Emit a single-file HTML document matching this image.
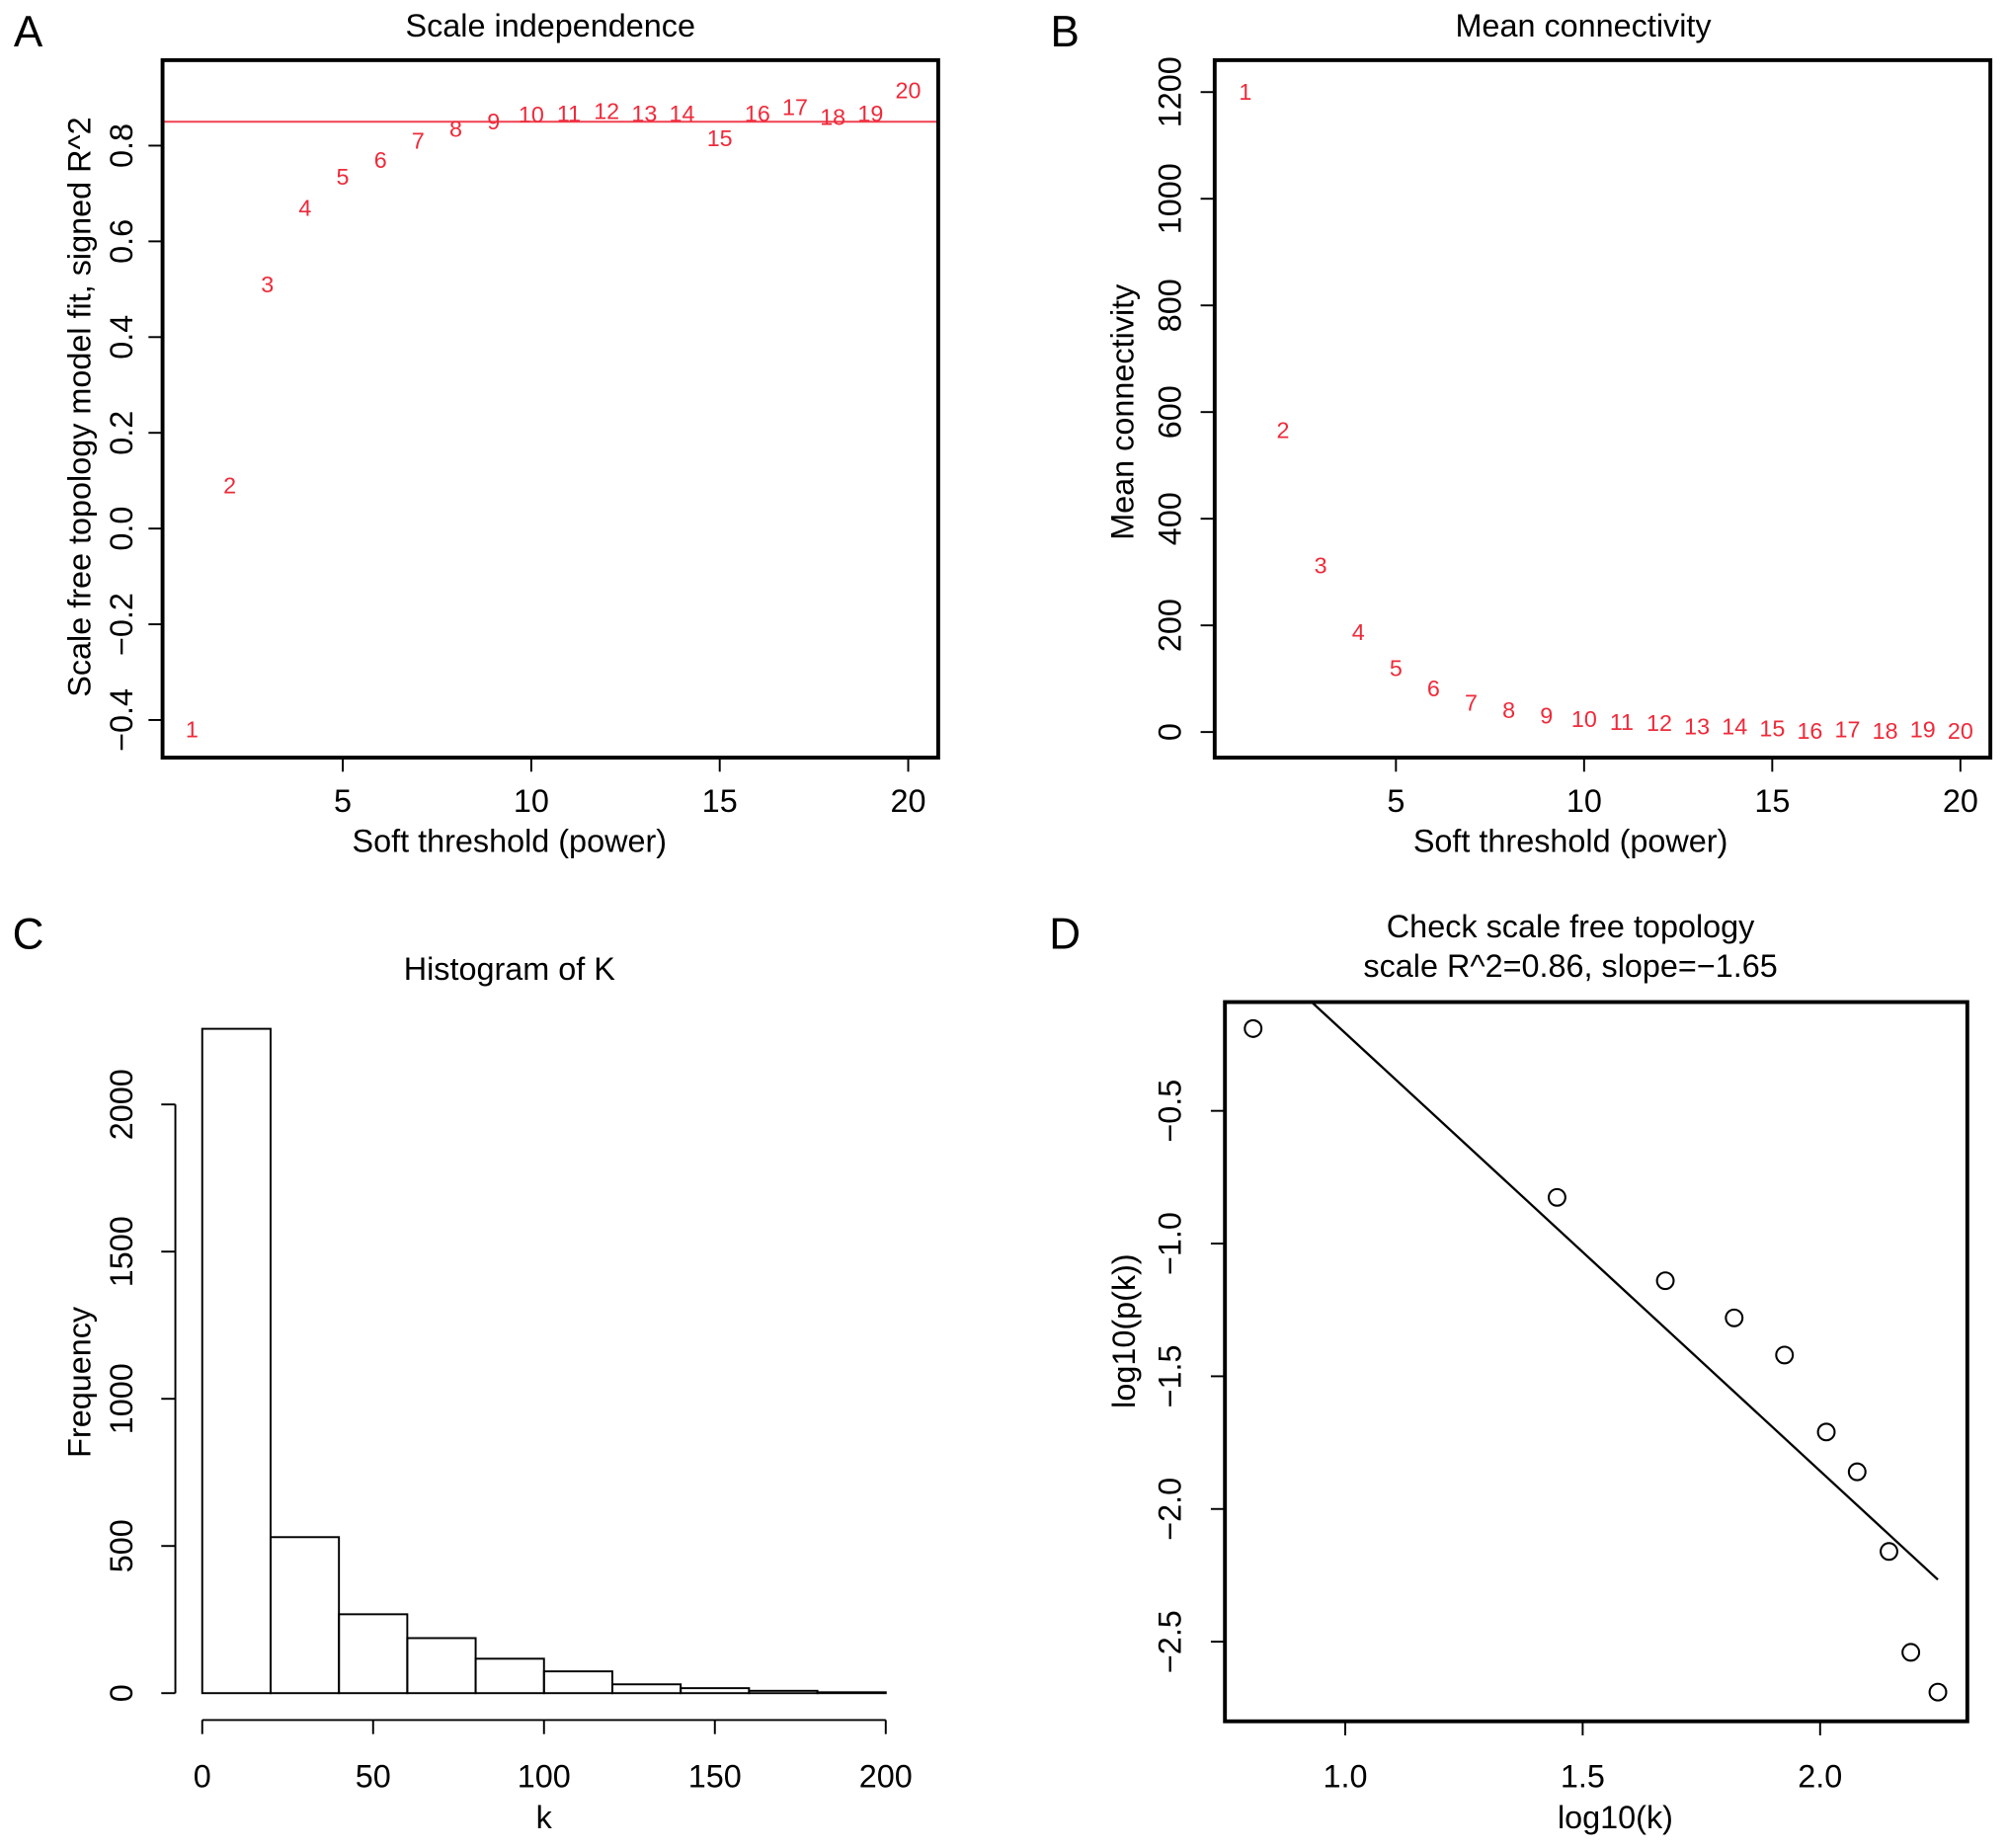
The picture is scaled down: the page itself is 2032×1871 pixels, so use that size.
<!DOCTYPE html>
<html><head><meta charset="utf-8"><style>
html,body{margin:0;padding:0;background:#fff}
svg{display:block}
text{font-family:"Liberation Sans",sans-serif}
</style></head><body>
<svg id="fig" width="2032" height="1871" viewBox="0 0 1568 1444" preserveAspectRatio="none" xmlns="http://www.w3.org/2000/svg"></svg>
<script>
// Panel A data
const powers = [1,2,3,4,5,6,7,8,9,10,11,12,13,14,15,16,17,18,19,20];
const fitR2 = [-0.42,0.09,0.51,0.67,0.735,0.77,0.81,0.835,0.85,0.865,0.867,0.872,0.867,0.867,0.815,0.867,0.88,0.86,0.867,0.915];
const aThreshold = 0.85;
const aXTicks = [5,10,15,20];
const aYTicks = [-0.4,-0.2,0.0,0.2,0.4,0.6,0.8];
// Panel B data
const meanK = [1200,566,312,187,120,82,55,41,31,24,19,17,10,10,7,2,5,2,5,2];
const bYTicks = [0,200,400,600,800,1000,1200];
// Panel C data
const histBreaks = [0,20,40,60,80,100,120,140,160,180,200];
const histCounts = [2257,530,268,187,117,74,30,17,8,3];
const cXTicks = [0,50,100,150,200];
const cYTicks = [0,500,1000,1500,2000];
// Panel D data
const logK = [0.806,1.446,1.674,1.819,1.925,2.013,2.078,2.145,2.191,2.248];
const logPk = [-0.19,-0.826,-1.14,-1.28,-1.42,-1.71,-1.86,-2.16,-2.54,-2.69];
const fitSlope = -1.65;
const fitIntercept = 1.443;
const dXTicks = [1.0,1.5,2.0];
const dYTicks = [-0.5,-1.0,-1.5,-2.0,-2.5];

const FS=25, RS=18;
const NS='http://www.w3.org/2000/svg';
const svg=document.getElementById('fig');
function mk(tag,attrs,parent){const e=document.createElementNS(NS,tag);for(const k in attrs)e.setAttribute(k,attrs[k]);(parent||svg).appendChild(e);return e;}
function txt(s,x,y,size,attrs,parent){const t=mk('text',Object.assign({x:x,y:y,'font-size':size,'text-anchor':'middle','dominant-baseline':'central'},attrs||{}),parent);t.textContent=s;return t;}
function fmt(v){return (v<0?'\u2212':'')+Math.abs(v).toFixed(1);}

// ---------- Panel A ----------
const gA=mk('g',{});


const axA=v=>150+(v-1)*29.45, ayA=v=>413-v*374;
let e=txt('A',22,25,34,{},gA);
e=txt('Scale independence',430,20,FS,{},gA);
e=mk('line',{x1:127,x2:733,y1:ayA(aThreshold),y2:ayA(aThreshold),stroke:'#f04050','stroke-width':1.5},gA);

powers.forEach((p,i)=>{const t=txt(String(p),axA(p),ayA(fitR2[i]),RS,{fill:'#ee2a3a'},gA);
});
e=mk('rect',{x:127,y:47,width:606,height:545,fill:'none',stroke:'#000','stroke-width':3},gA);

aXTicks.forEach(v=>{mk('line',{x1:axA(v),x2:axA(v),y1:592,y2:603,stroke:'#000','stroke-width':1.5},gA);
const t=txt(String(v),axA(v),626,FS,{},gA);});
aYTicks.forEach(v=>{mk('line',{x1:116,x2:127,y1:ayA(v),y2:ayA(v),stroke:'#000','stroke-width':1.5},gA);
const t=txt(fmt(v),95,ayA(v),FS,{transform:`rotate(-90 95 ${ayA(v)})`},gA);});
e=txt('Soft threshold (power)',398,657,FS,{},gA);
e=txt('Scale free topology model fit, signed R^2',62,318,FS,{transform:'rotate(-90 62 318)'},gA);

// ---------- Panel B ----------
const gB=mk('g',{});


const axB=v=>973+(v-1)*29.4, ayB=v=>572-v*0.4167;
e=txt('B',832,25,34,{},gB);
e=txt('Mean connectivity',1237,20,FS,{},gB);
powers.forEach((p,i)=>{const t=txt(String(p),axB(p),ayB(meanK[i]),RS,{fill:'#ee2a3a'},gB);
});
e=mk('rect',{x:949,y:47,width:606,height:545,fill:'none',stroke:'#000','stroke-width':3},gB);

aXTicks.forEach(v=>{mk('line',{x1:axB(v),x2:axB(v),y1:592,y2:603,stroke:'#000','stroke-width':1.5},gB);
const t=txt(String(v),axB(v),626,FS,{},gB);});
bYTicks.forEach(v=>{mk('line',{x1:938,x2:949,y1:ayB(v),y2:ayB(v),stroke:'#000','stroke-width':1.5},gB);
const t=txt(String(v),914,ayB(v),FS,{transform:`rotate(-90 914 ${ayB(v)})`},gB);});
e=txt('Soft threshold (power)',1227,657,FS,{},gB);
e=txt('Mean connectivity',877,322,FS,{transform:'rotate(-90 877 322)'},gB);

// ---------- Panel C ----------
const gC=mk('g',{});


const axC=v=>158+v*2.67, ayC=v=>1323-v*0.23;
e=txt('C',22,730,34,{},gC);
e=txt('Histogram of K',398,757,FS,{},gC);
histCounts.forEach((c,i)=>{const x0=axC(histBreaks[i]),x1=axC(histBreaks[i+1]);
const r=mk('rect',{x:x0,y:ayC(c),width:x1-x0,height:ayC(0)-ayC(c),fill:'none',stroke:'#000','stroke-width':1.5},gC);
});
mk('line',{x1:axC(0),x2:axC(200),y1:1344,y2:1344,stroke:'#000','stroke-width':1.5},gC);
cXTicks.forEach(v=>{mk('line',{x1:axC(v),x2:axC(v),y1:1344,y2:1355,stroke:'#000','stroke-width':1.5},gC);
const t=txt(String(v),axC(v),1388,FS,{},gC);});
mk('line',{x1:137,x2:137,y1:ayC(0),y2:ayC(2000),stroke:'#000','stroke-width':1.5},gC);
cYTicks.forEach(v=>{mk('line',{x1:126,x2:137,y1:ayC(v),y2:ayC(v),stroke:'#000','stroke-width':1.5},gC);
const t=txt(String(v),95,ayC(v),FS,{transform:`rotate(-90 95 ${ayC(v)})`},gC);});
e=txt('k',425,1420,FS,{},gC);
e=txt('Frequency',62,1080,FS,{transform:'rotate(-90 62 1080)'},gC);

// ---------- Panel D ----------
const gD=mk('g',{});


const axD=v=>1051+(v-1)*371, ayD=v=>868-(v+0.5)*207.4;
e=txt('D',832,730,34,{},gD);
e=txt('Check scale free topology',1227,724,FS,{},gD);
e=txt('scale R^2=0.86, slope=\u22121.65',1227,755,FS,{},gD);
const clip=mk('clipPath',{id:'clipD'},gD);mk('rect',{x:957,y:783,width:580,height:562},clip);
const lx0=logK[0]-0.2, lx1=logK[logK.length-1];
e=mk('line',{x1:axD(lx0),y1:ayD(fitIntercept+fitSlope*lx0),x2:axD(lx1),y2:ayD(fitIntercept+fitSlope*lx1),stroke:'#000','stroke-width':1.8,'clip-path':'url(#clipD)'},gD);

logK.forEach((x,i)=>{const c=mk('circle',{cx:axD(x),cy:ayD(logPk[i]),r:6.5,fill:'none',stroke:'#000','stroke-width':1.6},gD);
});
e=mk('rect',{x:957,y:783,width:580,height:562,fill:'none',stroke:'#000','stroke-width':3},gD);

dXTicks.forEach(v=>{mk('line',{x1:axD(v),x2:axD(v),y1:1345,y2:1356,stroke:'#000','stroke-width':1.5},gD);
const t=txt(v.toFixed(1),axD(v),1388,FS,{},gD);});
dYTicks.forEach(v=>{mk('line',{x1:946,x2:957,y1:ayD(v),y2:ayD(v),stroke:'#000','stroke-width':1.5},gD);
const t=txt(fmt(v),914,ayD(v),FS,{transform:`rotate(-90 914 ${ayD(v)})`},gD);});
e=txt('log10(k)',1262,1420,FS,{},gD);
e=txt('log10(p(k))',878,1040,FS,{transform:'rotate(-90 878 1040)'},gD);
</script>
</body></html>
